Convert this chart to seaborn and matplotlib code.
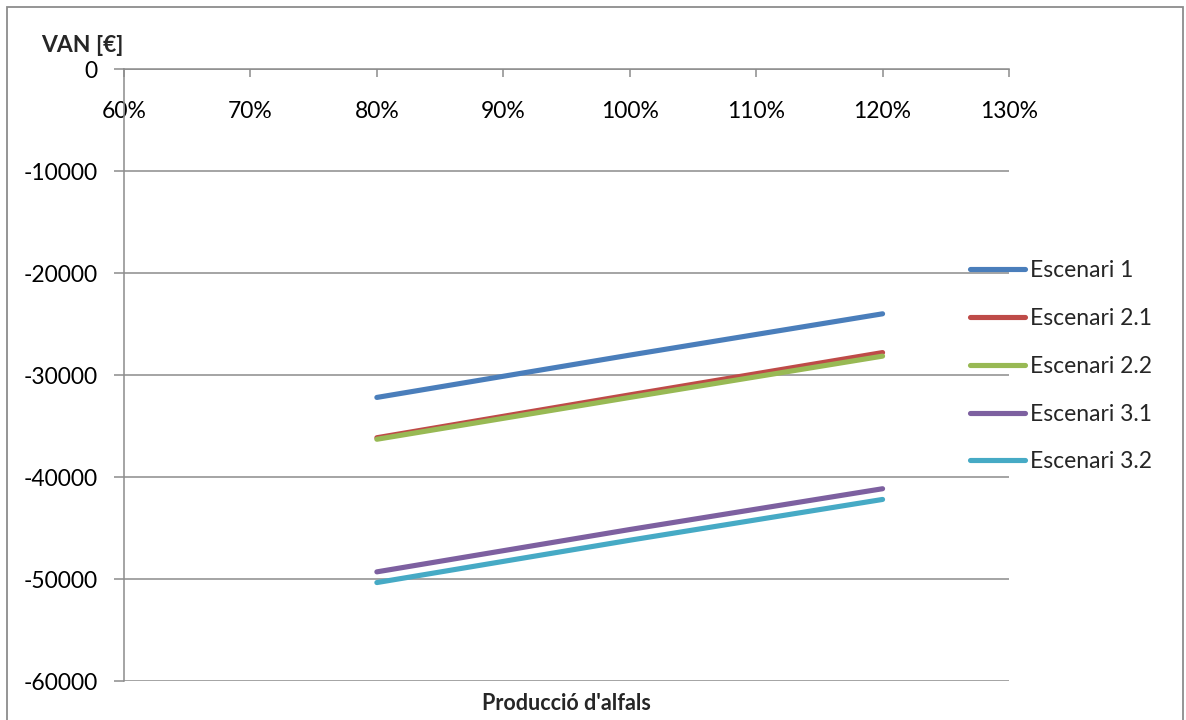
import matplotlib
matplotlib.use("Agg")
import matplotlib.pyplot as plt
import matplotlib.patches as mpatches
import seaborn as sns
import pandas as pd

# Data
production = [0.8, 1.0, 1.2]
scenarios = ["Escenari 1", "Escenari 2.1", "Escenari 2.2", "Escenari 3.1", "Escenari 3.2"]
esc_1 = [-32200, -28050, -24000]
esc_2_1 = [-36150, -31950, -27800]
esc_2_2 = [-36300, -32200, -28150]
esc_3_1 = [-49300, -45150, -41150]
esc_3_2 = [-50350, -46200, -42200]
series = [esc_1, esc_2_1, esc_2_2, esc_3_1, esc_3_2]
colors = ["#4A7EBB", "#BE4B48", "#98B954", "#7D60A0", "#46AAC5"]
x_ticks = [0.6, 0.7, 0.8, 0.9, 1.0, 1.1, 1.2, 1.3]
x_ticklabels = ["60%", "70%", "80%", "90%", "100%", "110%", "120%", "130%"]
y_ticks = [0, -10000, -20000, -30000, -40000, -50000, -60000]

rows = []
for name, vals in zip(scenarios, series):
    for x, v in zip(production, vals):
        rows.append({"prod": x, "VAN": v, "Escenari": name})
df = pd.DataFrame(rows)

sns.set_theme(style="white")
plt.rcParams["font.family"] = ["Lato", "DejaVu Sans"]

FS = 16.5
W, H = 1186, 720
fig = plt.figure(figsize=(W / 100, H / 100), dpi=100)
ax = fig.add_axes([124 / W, 1 - 681 / H, (1009 - 124) / W, (681 - 69) / H])

sns.lineplot(data=df, x="prod", y="VAN", hue="Escenari", hue_order=scenarios,
             palette=colors, linewidth=3.7, ax=ax, legend=False,
             solid_capstyle="round")

ax.set_xlim(0.6, 1.3)
ax.set_ylim(-60000, 0)
ax.set_xticks(x_ticks)
ax.set_xticklabels(x_ticklabels)
ax.set_yticks(y_ticks)
ax.set_yticklabels([str(v) for v in y_ticks])
ax.set_xlabel("")
ax.set_ylabel("")

grey = "#8c8c8c"
ax.yaxis.grid(True, color=grey, linewidth=1.1)
ax.xaxis.grid(False)
for s in ["top", "right"]:
    ax.spines[s].set_visible(False)
ax.spines["bottom"].set_position(("data", 0))
ax.spines["bottom"].set_color(grey)
ax.spines["bottom"].set_linewidth(1.1)
ax.spines["left"].set_color(grey)
ax.spines["left"].set_linewidth(1.1)
ax.tick_params(axis="x", direction="out", length=6, width=1.1, color=grey,
               pad=17, labelsize=FS, labelcolor="black", bottom=True)
ax.tick_params(axis="y", direction="out", length=7, width=1.1, color=grey,
               pad=12, labelsize=FS, labelcolor="black", left=True)

# Legend
handles = [plt.Line2D([], [], color=c, linewidth=3.7, solid_capstyle="round") for c in colors]
fig.legend(handles, scenarios, loc="upper left",
           bbox_to_anchor=(961 / W, 1 - 251 / H), frameon=False,
           fontsize=FS, handlelength=2.4, handletextpad=0.2, labelspacing=1.17,
           borderaxespad=0)

fig.text(82 / W, 1 - 46 / H, "VAN [€]", ha="center", va="center",
         fontsize=16.5, fontweight="bold")
fig.text(566.5 / W, 1 - 703 / H, "Producció d'alfals", ha="center", va="center",
         fontsize=15.5, fontweight="bold")

border = mpatches.Rectangle((7 / W, -0.02), (1183 - 7) / W, 1 - 7 / H + 0.02,
                            transform=fig.transFigure, fill=False,
                            edgecolor=grey, linewidth=1.3)
fig.patches.append(border)

fig.savefig("out.png", dpi=100)
